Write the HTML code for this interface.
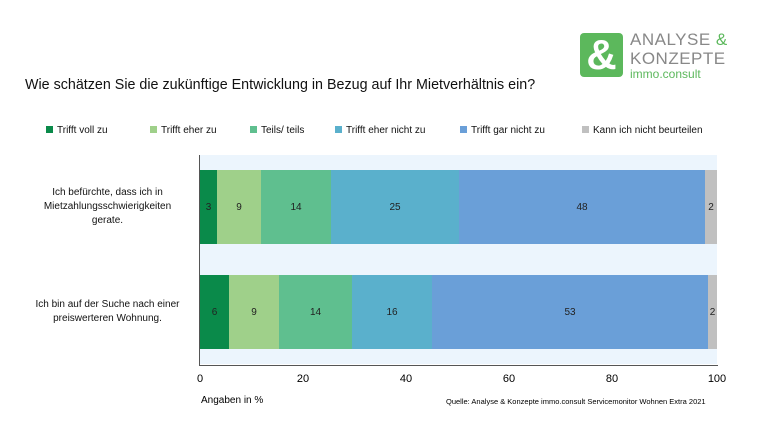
<!DOCTYPE html><html><head><meta charset="utf-8"><style>
body{margin:0;width:768px;height:432px;background:#fff;font-family:"Liberation Sans",sans-serif;position:relative;overflow:hidden}
.a{position:absolute}
.seg{position:absolute;display:flex;align-items:center;justify-content:center;font-size:10px;color:#222}
.lg{position:absolute;top:125px;font-size:10px;color:#111;white-space:nowrap}
.lg i{display:inline-block;width:7px;height:7px;margin-right:4px}
</style></head><body>
<div class="a" style="left:580px;top:33px;width:43px;height:44px;background:#5cb85c;border-radius:4px;color:#fff;font-size:42px;font-weight:bold;line-height:44px;text-align:center">&amp;</div>
<div class="a" style="left:630px;top:30px;font-size:17px;color:#888;line-height:19px;letter-spacing:0.5px">ANALYSE <span style="color:#5cb85c">&amp;</span><br>KONZEPTE</div>
<div class="a" style="left:630px;top:67px;font-size:12px;color:#5cb85c">immo.consult</div>
<div class="a" style="left:25px;top:77px;font-size:14.3px;color:#111">Wie schätzen Sie die zukünftige Entwicklung in Bezug auf Ihr Mietverhältnis ein?</div>
<div class="lg" style="left:46px"><i style="background:#0a8a4a"></i>Trifft voll zu</div>
<div class="lg" style="left:150px"><i style="background:#9fd08a"></i>Trifft eher zu</div>
<div class="lg" style="left:250px"><i style="background:#5fbf8f"></i>Teils/ teils</div>
<div class="lg" style="left:335px"><i style="background:#5ab0cc"></i>Trifft eher nicht zu</div>
<div class="lg" style="left:460px"><i style="background:#6a9fd8"></i>Trifft gar nicht zu</div>
<div class="lg" style="left:582px"><i style="background:#c0c0c0"></i>Kann ich nicht beurteilen</div>
<div class="a" style="left:200px;top:155px;width:517px;height:209px;background:#ecf5fd"></div>
<div class="a" style="left:199px;top:155px;width:1px;height:211px;background:#555"></div>
<div class="a" style="left:199px;top:365px;width:519px;height:1px;background:#555"></div>
<div class="seg" style="left:200px;top:170px;width:17px;height:74px;background:#0a8a4a">3</div>
<div class="seg" style="left:217px;top:170px;width:44px;height:74px;background:#9fd08a">9</div>
<div class="seg" style="left:261px;top:170px;width:70px;height:74px;background:#5fbf8f">14</div>
<div class="seg" style="left:331px;top:170px;width:128px;height:74px;background:#5ab0cc">25</div>
<div class="seg" style="left:459px;top:170px;width:246px;height:74px;background:#6a9fd8">48</div>
<div class="seg" style="left:705px;top:170px;width:12px;height:74px;background:#c0c0c0">2</div>
<div class="seg" style="left:200px;top:275px;width:29px;height:74px;background:#0a8a4a">6</div>
<div class="seg" style="left:229px;top:275px;width:50px;height:74px;background:#9fd08a">9</div>
<div class="seg" style="left:279px;top:275px;width:73px;height:74px;background:#5fbf8f">14</div>
<div class="seg" style="left:352px;top:275px;width:80px;height:74px;background:#5ab0cc">16</div>
<div class="seg" style="left:432px;top:275px;width:276px;height:74px;background:#6a9fd8">53</div>
<div class="seg" style="left:708px;top:275px;width:9px;height:74px;background:#c0c0c0">2</div>
<div class="a" style="left:20px;top:186px;width:175px;text-align:center;font-size:10px;line-height:14px;color:#111">Ich befürchte, dass ich in<br>Mietzahlungsschwierigkeiten<br>gerate.</div>
<div class="a" style="left:20px;top:298px;width:175px;text-align:center;font-size:10px;line-height:14px;color:#111">Ich bin auf der Suche nach einer<br>preiswerteren Wohnung.</div>
<div class="a" style="left:190px;top:373px;width:20px;text-align:center;font-size:11px">0</div>
<div class="a" style="left:293px;top:373px;width:20px;text-align:center;font-size:11px">20</div>
<div class="a" style="left:396px;top:373px;width:20px;text-align:center;font-size:11px">40</div>
<div class="a" style="left:499px;top:373px;width:20px;text-align:center;font-size:11px">60</div>
<div class="a" style="left:602px;top:373px;width:20px;text-align:center;font-size:11px">80</div>
<div class="a" style="left:703px;top:373px;width:28px;text-align:center;font-size:11px">100</div>
<div class="a" style="left:201px;top:395px;font-size:10px">Angaben in %</div>
<div class="a" style="left:446px;top:397px;font-size:7.5px">Quelle: Analyse &amp; Konzepte immo.consult Servicemonitor Wohnen Extra 2021</div>
</body></html>
